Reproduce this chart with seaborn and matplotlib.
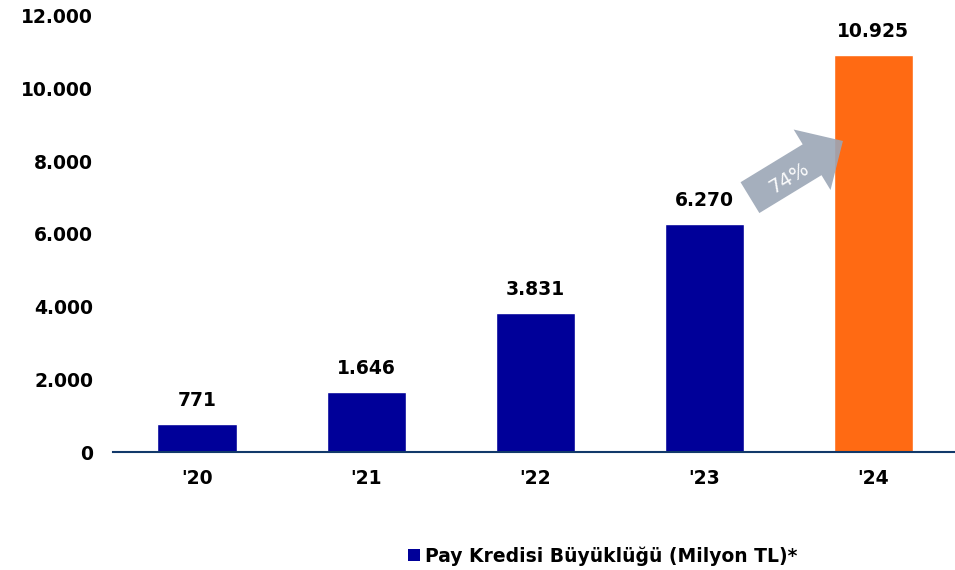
import matplotlib
matplotlib.use('Agg')
import matplotlib.pyplot as plt
import seaborn as sns
from matplotlib.patches import Patch

years = ["'20", "'21", "'22", "'23", "'24"]
values = [771, 1646, 3831, 6270, 10925]
bar_colors = ['#000099', '#000099', '#000099', '#000099', '#FF6A13']
yticks = [0, 2000, 4000, 6000, 8000, 10000, 12000]
legend_label = 'Pay Kredisi Büyüklüğü (Milyon TL)*'
growth_label = '74%'

def fmt(v):
    return f'{int(round(v)):,}'.replace(',', '.')

sns.set_style('white')
plt.rcParams['font.family'] = ['DejaVu Sans']
plt.rcParams['text.color'] = 'black'
plt.rcParams['xtick.color'] = 'black'
plt.rcParams['ytick.color'] = 'black'

fig = plt.figure(figsize=(9.55, 5.7), dpi=100)
ax = fig.add_axes([0.118, 0.207, 0.885, 0.765])

sns.barplot(x=years, y=values, hue=years, palette=bar_colors, legend=False,
            width=0.47, saturation=1, ax=ax)

for container in ax.containers:
    ax.bar_label(container, labels=[fmt(v) for v in container.datavalues],
                 padding=10, fontsize=13.5, fontweight='bold', color='black')

ax.set_xlim(-0.5, 4.5)
ax.set_ylim(0, 12000)
ax.set_yticks(yticks)
ax.set_yticklabels([fmt(t) for t in yticks])
ax.tick_params(axis='both', length=0, labelsize=13.5, labelcolor='black')
ax.tick_params(axis='y', pad=14)
ax.tick_params(axis='x', pad=12)
for lab in ax.get_xticklabels() + ax.get_yticklabels():
    lab.set_fontweight('bold')
for side in ['top', 'right', 'left']:
    ax.spines[side].set_visible(False)
ax.spines['bottom'].set_color('#12396A')
ax.spines['bottom'].set_linewidth(1.5)
ax.set_xlabel('')
ax.set_ylabel('')

# growth arrow between '23 and '24
ax.annotate('', xy=(3.82, 8560), xytext=(3.27, 7000),
            arrowprops=dict(arrowstyle='simple,head_length=26,head_width=51,tail_width=26',
                            mutation_scale=1, color='#9BA6B6', alpha=0.9,
                            shrinkA=0, shrinkB=0, lw=0))
ax.text(3.50, 7540, growth_label, rotation=31, ha='center', va='center',
        fontsize=14, color='white', alpha=0.95)

handle = Patch(facecolor='#000099', edgecolor='none')
fig.legend([handle], [legend_label], loc='center', bbox_to_anchor=(603 / 955, 1 - 556 / 570),
           frameon=False, prop={'weight': 'bold', 'size': 13.5},
           handlelength=0.6, handleheight=0.6, handletextpad=0.3, labelcolor='black')

fig.savefig('out.png', dpi=100)
